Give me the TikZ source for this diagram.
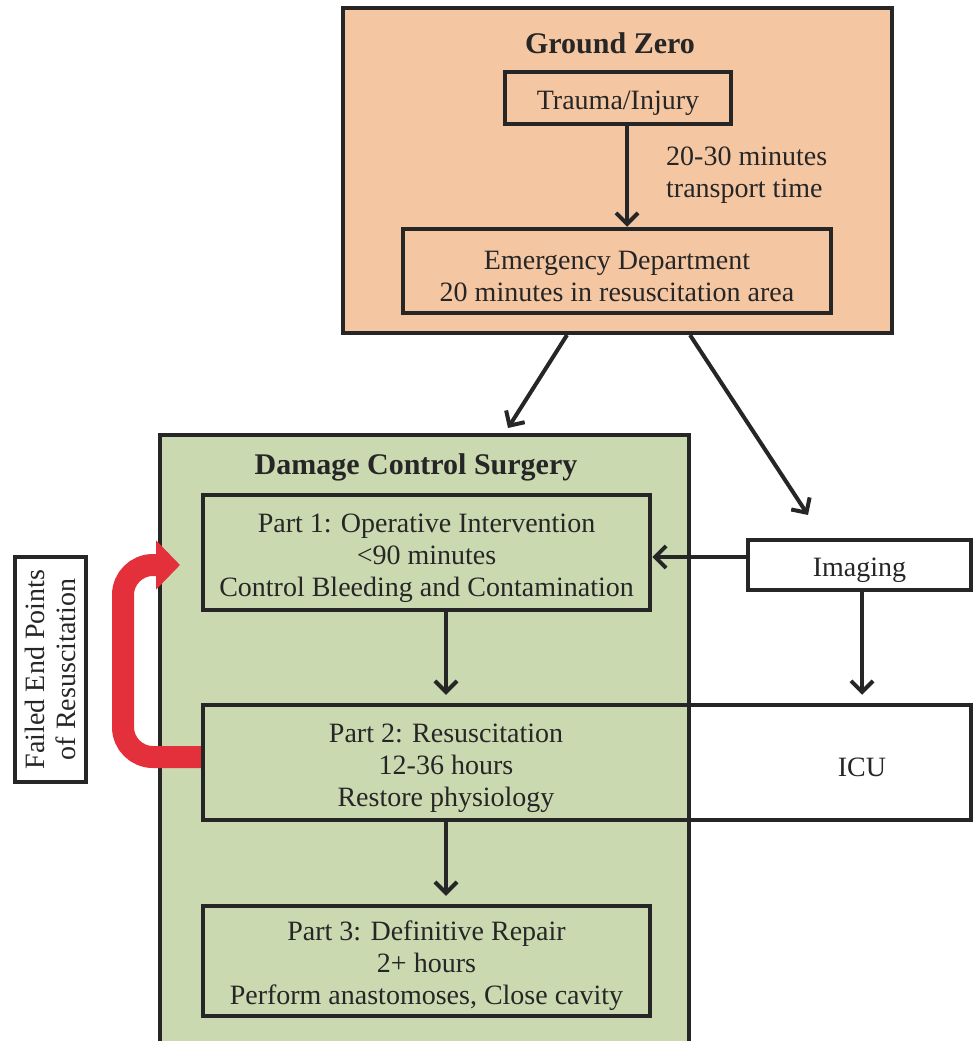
\documentclass[tikz,border=0pt]{standalone}
\usepackage{fontspec}
\setmainfont{Liberation Serif}
\usetikzlibrary{arrows.meta,calc}
\definecolor{peach}{HTML}{F5C6A2}
\definecolor{sage}{HTML}{CBD9B1}
\definecolor{ink}{HTML}{262626}
\definecolor{redarr}{HTML}{E3303B}
\newcommand{\dnshift}{\rule{0pt}{30pt}}
\tikzset{
  box/.style={draw=ink, line width=4.5pt, rectangle, inner sep=0pt, align=center,
    font=\fontsize{28}{32}\selectfont, text=ink},
  ttl/.style={font=\fontsize{30}{34}\selectfont\bfseries, text=ink},
  txt/.style={font=\fontsize{28}{32}\selectfont, text=ink, align=left, inner sep=0pt},
  arr/.style={draw=ink, line width=4pt, -{Straight Barb[length=11pt,width=22pt,line width=4pt]}},
  redarrow/.style={draw=redarr, line width=22pt, rounded corners=30pt,
    -{Triangle[length=24pt,width=48pt]}}
}
\begin{document}
\begin{tikzpicture}[x=1pt,y=-1pt]
\useasboundingbox (0,0) rectangle (973,1041);
% Ground Zero
\node[box, fill=peach, minimum width=549pt, minimum height=325pt] (gz) at (617.5,170.5) {};
\node[ttl] (gzt) at (610,43) {Ground Zero};
\node[box, minimum width=226pt, minimum height=52pt] (trauma) at (618,98) {\dnshift Trauma/Injury};
\node[box, minimum width=428pt, minimum height=84pt] (ed) at (617,271) {\dnshift Emergency Department\\20 minutes in resuscitation area};
\node[txt, anchor=west] (tt) at (666,175) {20-30 minutes\\transport time};
\draw[arr] (trauma.south -| 627,0) -- (ed.north -| 627,0);
% Damage control surgery
\node[box, fill=sage, minimum width=529pt, minimum height=625pt] (dcs) at (424.5,747.5) {};
\node[ttl] (dcst) at (416,467) {Damage Control Surgery};
\node[box, minimum width=447pt, minimum height=115pt] (p1) at (426.5,552.5) {\dnshift Part 1: Operative Intervention\\<90 minutes\\Control Bleeding and Contamination};
\node[box, minimum width=486pt, minimum height=115pt] (p2) at (446,762.5) {\dnshift Part 2: Resuscitation\\12-36 hours\\Restore physiology};
\node[box, minimum width=447pt, minimum height=110pt] (p3) at (426.5,961) {\dnshift Part 3: Definitive Repair\\2+ hours\\Perform anastomoses, Close cavity};
% Right side
\node[box, fill=white, minimum width=282pt, minimum height=115pt] (icu) at (830,762.5) {};
\node[txt] (icut) at (862,767) {ICU};
\node[box, fill=white, minimum width=223pt, minimum height=50pt] (img) at (859.5,565) {\dnshift Imaging};
% Failed end points
\node[box, fill=white, minimum width=225pt, minimum height=71pt, rotate=90,
  font=\fontsize{28}{31}\selectfont] (fail) at (50.5,669.5) {Failed End Points\\of Resuscitation};
% Connectors
\coordinate (a1s) at (567,335);
\coordinate (a1e) at (508,428);
\coordinate (a2s) at (690,335);
\coordinate (a2e) at (808,515);
\draw[arr] (a1s) -- (a1e);
\draw[arr] (a2s) -- (a2e);
\draw[arr] (img.west |- 0,557) -- (p1.east |- 0,557);
\draw[arr] (img.south -| 862,0) -- ($(icu.north -| 862,0)+(0,-8)$);
\draw[arr] (p1.south -| 446,0) -- ($(p2.north -| 446,0)+(0,-8)$);
\draw[arr] (p2.south -| 446,0) -- ($(p3.north -| 446,0)+(0,-8)$);
\coordinate (rtip) at (180,565);
\draw[redarrow] (p2.west |- 0,757) -- (123,757) -- (123,565) -- (rtip);
\end{tikzpicture}
\end{document}
